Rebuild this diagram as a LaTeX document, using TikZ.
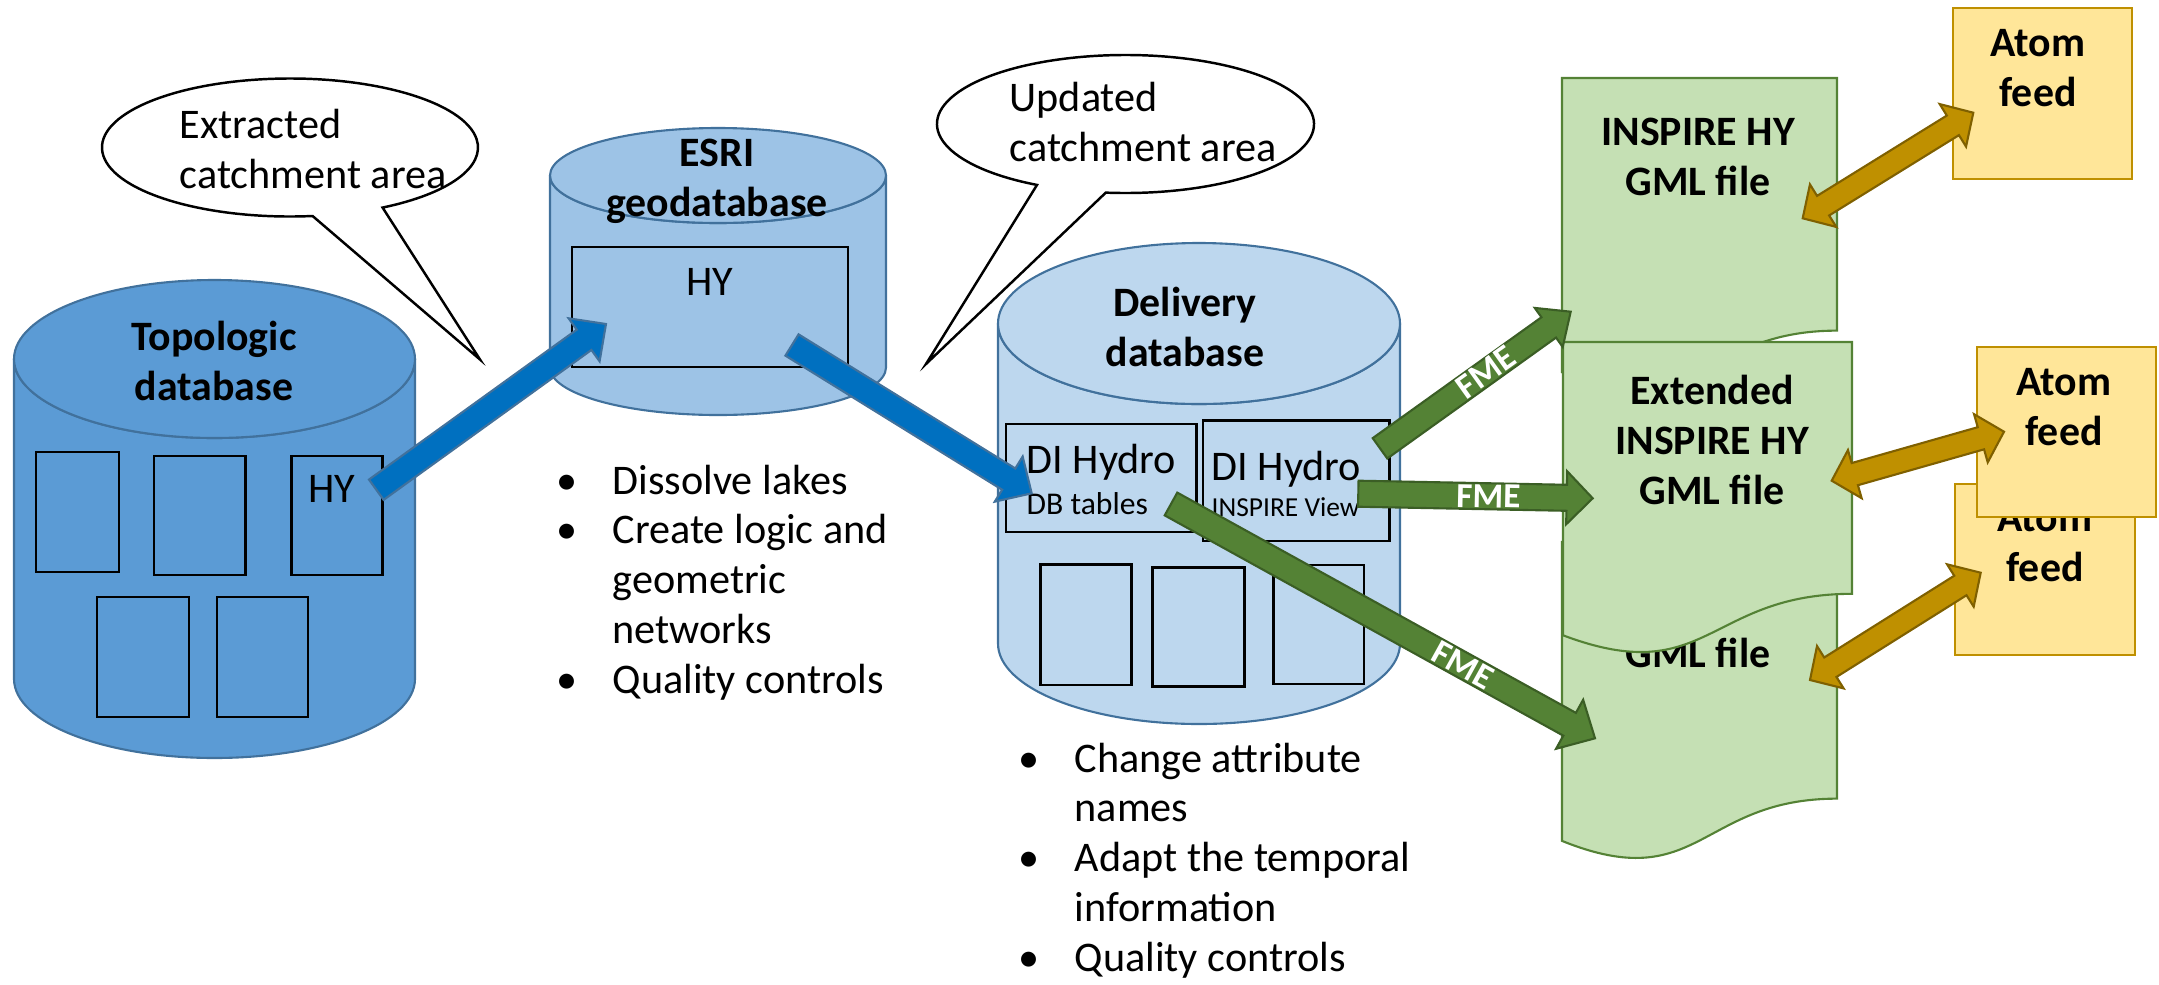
\documentclass[tikz,border=0pt]{standalone}
\usepackage{fontspec}
\setmainfont{Carlito}
\usetikzlibrary{calc}

\definecolor{topoblue}{HTML}{5B9BD5}
\definecolor{esriblue}{HTML}{9DC3E6}
\definecolor{delivblue}{HTML}{BDD7EE}
\definecolor{edgeblue}{HTML}{41719C}
\definecolor{arrowblue}{HTML}{0070C0}
\definecolor{docgreen}{HTML}{C5E0B4}
\definecolor{darkgreen}{HTML}{548235}
\definecolor{edgegreen}{HTML}{3B5E25}
\definecolor{atomyellow}{HTML}{FFE699}
\definecolor{gold}{HTML}{BF9000}
\definecolor{edgegold}{HTML}{7F6000}

% cylinder: (x, top y, bottom y)(x radius, y radius)
\def\cylinder[#1](#2,#3,#4)(#5,#6){\filldraw[#1] (#2-#5, #3) -- (#2-#5, #4) arc[start angle=180, end angle=0, x radius=#5, y radius=#6] -- (#2+#5, #3) arc[start angle=0, end angle=180, x radius=#5, y radius=#6] -- cycle; \filldraw[#1] (#2, #3) ellipse[x radius=#5, y radius=#6];}
% document: (left, top)(width, height)
\def\docshape[#1](#2,#3)(#4,#5){\filldraw[#1] (#2, #3) -- (#2+#4, #3) -- (#2+#4, #3+0.802*#5) .. controls (#2+0.5*#4, #3+0.802*#5) and (#2+0.5*#4, #3+1.1075*#5) .. (#2, #3+0.934*#5) -- cycle;}
% block arrows: (from)(to)(half shaft:half head:head length)
\def\blockarrow[#1](#2)(#3)(#4:#5:#6){\coordinate (ba-h) at ($(#3)!#6!(#2)$); \filldraw[#1] ($(#2)!#4!90:(#3)$) -- ($(ba-h)!#4!90:(#3)$) -- ($(ba-h)!#5!90:(#3)$) -- (#3) -- ($(ba-h)!#5!-90:(#3)$) -- ($(ba-h)!#4!-90:(#3)$) -- ($(#2)!#4!-90:(#3)$) -- cycle;}
\def\twoheadarrow[#1](#2)(#3)(#4:#5:#6){\coordinate (ba-p) at ($(#2)!#6!(#3)$); \coordinate (ba-q) at ($(#3)!#6!(#2)$); \filldraw[#1] (#2) -- ($(ba-p)!#5!90:(#3)$) -- ($(ba-p)!#4!90:(#3)$) -- ($(ba-q)!#4!90:(#3)$) -- ($(ba-q)!#5!90:(#3)$) -- (#3) -- ($(ba-q)!#5!-90:(#3)$) -- ($(ba-q)!#4!-90:(#3)$) -- ($(ba-p)!#4!-90:(#3)$) -- ($(ba-p)!#5!-90:(#3)$) -- cycle;}

\tikzset{
	every node/.style={inner sep=0pt, font=\fontsize{12}{14.2}\selectfont},
	title/.style={font=\fontsize{11.9}{14.2}\selectfont\bfseries, align=center},
	callout/.style={fill=white, draw=black, line width=0.7pt},
	box/.style={draw=black, line width=0.8pt},
	topocyl/.style={fill=topoblue, draw=edgeblue, line width=0.6pt},
	esricyl/.style={fill=esriblue, draw=edgeblue, line width=0.6pt},
	delivcyl/.style={fill=delivblue, draw=edgeblue, line width=0.6pt},
	doc/.style={fill=docgreen, draw=darkgreen, line width=0.6pt},
	atom/.style={fill=atomyellow, draw=gold, line width=0.6pt},
	bluearrow/.style={fill=arrowblue, draw=edgeblue, line width=0.6pt},
	greenarrow/.style={fill=darkgreen, draw=edgegreen, line width=0.6pt},
	goldarrow/.style={fill=gold, draw=edgegold, line width=0.6pt},
	fme/.style={text=white, font=\fontsize{10}{12}\selectfont\bfseries, sloped},
	subtext/.style={font=\fontsize{9}{11}\selectfont},
	tinytext/.style={font=\fontsize{7.8}{9.5}\selectfont}
}

\begin{document}
\begin{tikzpicture}[x=0.01cm, y=-0.01cm]
		%%%%% START %%%%%
		\useasboundingbox (0, 0) rectangle (2159, 984);
		
		% speech bubbles
		\draw[callout] ({290+188*cos(83.1)}, {147.5+69*sin(83.1)}) arc[start angle=83.1, end angle=420.5, x radius=188, y radius=69] -- (480, 359.5) -- cycle;
		\node[anchor=base west, align=left] (extr) at (179, 188) {Extracted\\catchment area};
		
		\draw[callout] ({1125.5+188.5*cos(118)}, {124+69*sin(118)}) arc[start angle=118, end angle=456, x radius=188.5, y radius=69] -- (926, 364) -- cycle;
		\node[anchor=base west, align=left] (upd) at (1009, 161.7) {Updated\\catchment area};
		
		% topologic database
		\cylinder[topocyl](214.5, 359, 679)(200.5, 79);
		\node[title, anchor=base] (topo-title) at (214, 400) {Topologic\\database};
		\draw[box] (36, 452) rectangle (119, 572);
		\draw[box] (154, 456) rectangle (245.5, 575);
		\draw[box] (291.5, 456) rectangle (382.7, 575);
		\draw[box] (97, 597) rectangle (189, 717);
		\draw[box] (217, 597) rectangle (308, 717);
		\node[anchor=base] (topo-hy) at (332, 502) {HY};
		
		% esri geodatabase
		\cylinder[esricyl](718, 175.5, 367.5)(168, 47.5);
		\node[title, anchor=base] (esri-title) at (717, 216.7) {ESRI\\geodatabase};
		\draw[box] (572, 247) rectangle (848, 367);
		\node[anchor=base] (esri-hy) at (710, 295) {HY};
		
		% delivery database
		\cylinder[delivcyl](1199, 323.5, 643.5)(201, 80.5);
		\node[title, anchor=base] (deliv-title) at (1185, 366) {Delivery\\database};
		\draw[box] (1006, 424) rectangle (1196.5, 532);
		\draw[box] (1203, 420.5) rectangle (1389.5, 541);
		\draw[box] (1040.6, 564.6) rectangle (1131.6, 685);
		\draw[box] (1152.7, 567.3) rectangle (1244.3, 686.7);
		\draw[box] (1273.3, 565) rectangle (1364, 684);
		\node[anchor=base west] (di-tables) at (1026, 473) {DI Hydro};
		\node[subtext, anchor=base west] (di-tables-sub) at (1026, 514) {DB tables};
		\node[anchor=base west] (di-view) at (1211, 480) {DI Hydro};
		\node[tinytext, anchor=base west] (di-view-sub) at (1211, 516) {INSPIRE View};
		
		% blue arrows
		\coordinate (topo-out) at (376.3, 489.7);
		\coordinate (esri-in) at (606, 324);
		\coordinate (esri-out) at (792, 345);
		\coordinate (deliv-in) at (1031.7, 493.3);
		\blockarrow[bluearrow](topo-out)(esri-in)(0.125cm:0.265cm:0.27cm);
		\blockarrow[bluearrow](esri-out)(deliv-in)(0.125cm:0.265cm:0.27cm);
		
		% processing steps
		\node[anchor=base west] (list-esri) at (556, 494) {\begin{tabular}[t]{@{}p{0.56cm}@{}l@{}}
			\textbullet & Dissolve lakes\\
			\textbullet & Create logic and\\
			& geometric\\
			& networks\\
			\textbullet & Quality controls
		\end{tabular}};
		\node[anchor=base west] (list-deliv) at (1018, 772) {\begin{tabular}[t]{@{}p{0.56cm}@{}l@{}}
			\textbullet & Change attribute\\
			& names\\
			\textbullet & Adapt the temporal\\
			& information\\
			\textbullet & Quality controls
		\end{tabular}};
		
		% gml files
		\docshape[doc](1562, 78)(275, 315);
		\node[title, anchor=base] (gml-a) at (1698, 195) {INSPIRE HY\\GML file};
		\docshape[doc](1562, 542)(275, 320);
		\node[title, anchor=base] (gml-b) at (1698, 667) {GML file};
		\docshape[doc](1563, 342)(289, 314);
		\node[title, anchor=base] (gml-ext) at (1712, 504) {Extended\\INSPIRE HY\\GML file};
		
		% fme arrows
		\coordinate (view-out-a) at (1380, 448.3);
		\coordinate (gml-a-in) at (1570.7, 311.7);
		\coordinate (view-out-b) at (1358.3, 493.7);
		\coordinate (gml-ext-in) at (1592.7, 498.3);
		\coordinate (tables-out) at (1171, 504);
		\coordinate (gml-b-in) at (1595, 738.3);
		\blockarrow[greenarrow](view-out-a)(gml-a-in)(0.125cm:0.24cm:0.27cm);
		\blockarrow[greenarrow](view-out-b)(gml-ext-in)(0.13cm:0.265cm:0.26cm);
		\blockarrow[greenarrow](tables-out)(gml-b-in)(0.13cm:0.28cm:0.29cm);
		\path (view-out-a) -- node[fme, pos=0.556] (fme-a) {FME} (gml-a-in);
		\path (view-out-b) -- node[fme, pos=0.555] (fme-b) {FME} (gml-ext-in);
		\path (tables-out) -- node[fme, pos=0.689] (fme-c) {FME} (gml-b-in);
		
		% atom feeds
		\draw[atom] (1953, 8) rectangle (2132, 179);
		\node[title, anchor=base] (atom-a) at (2038, 106.7) {Atom\\feed};
		\draw[atom] (1955, 484) rectangle (2135, 655);
		\node[title, anchor=base] (atom-c) at (2045, 581.7) {Atom\\feed};
		\draw[atom] (1977, 347) rectangle (2156, 517);
		\node[title, anchor=base] (atom-b) at (2064, 445) {Atom\\feed};
		
		% feed arrows
		\coordinate (gml-a-out) at (1802.7, 218.3);
		\coordinate (atom-a-in) at (1973.3, 112.7);
		\coordinate (gml-ext-out) at (1831.7, 480.7);
		\coordinate (atom-b-in) at (2004, 431.7);
		\coordinate (gml-b-out) at (1810, 680);
		\coordinate (atom-c-in) at (1980.7, 572.7);
		\twoheadarrow[goldarrow](gml-a-out)(atom-a-in)(0.115cm:0.25cm:0.24cm);
		\twoheadarrow[goldarrow](gml-ext-out)(atom-b-in)(0.115cm:0.25cm:0.24cm);
		\twoheadarrow[goldarrow](gml-b-out)(atom-c-in)(0.115cm:0.25cm:0.24cm);
		
		%%%%% END %%%%%
	\end{tikzpicture}
\end{document}
